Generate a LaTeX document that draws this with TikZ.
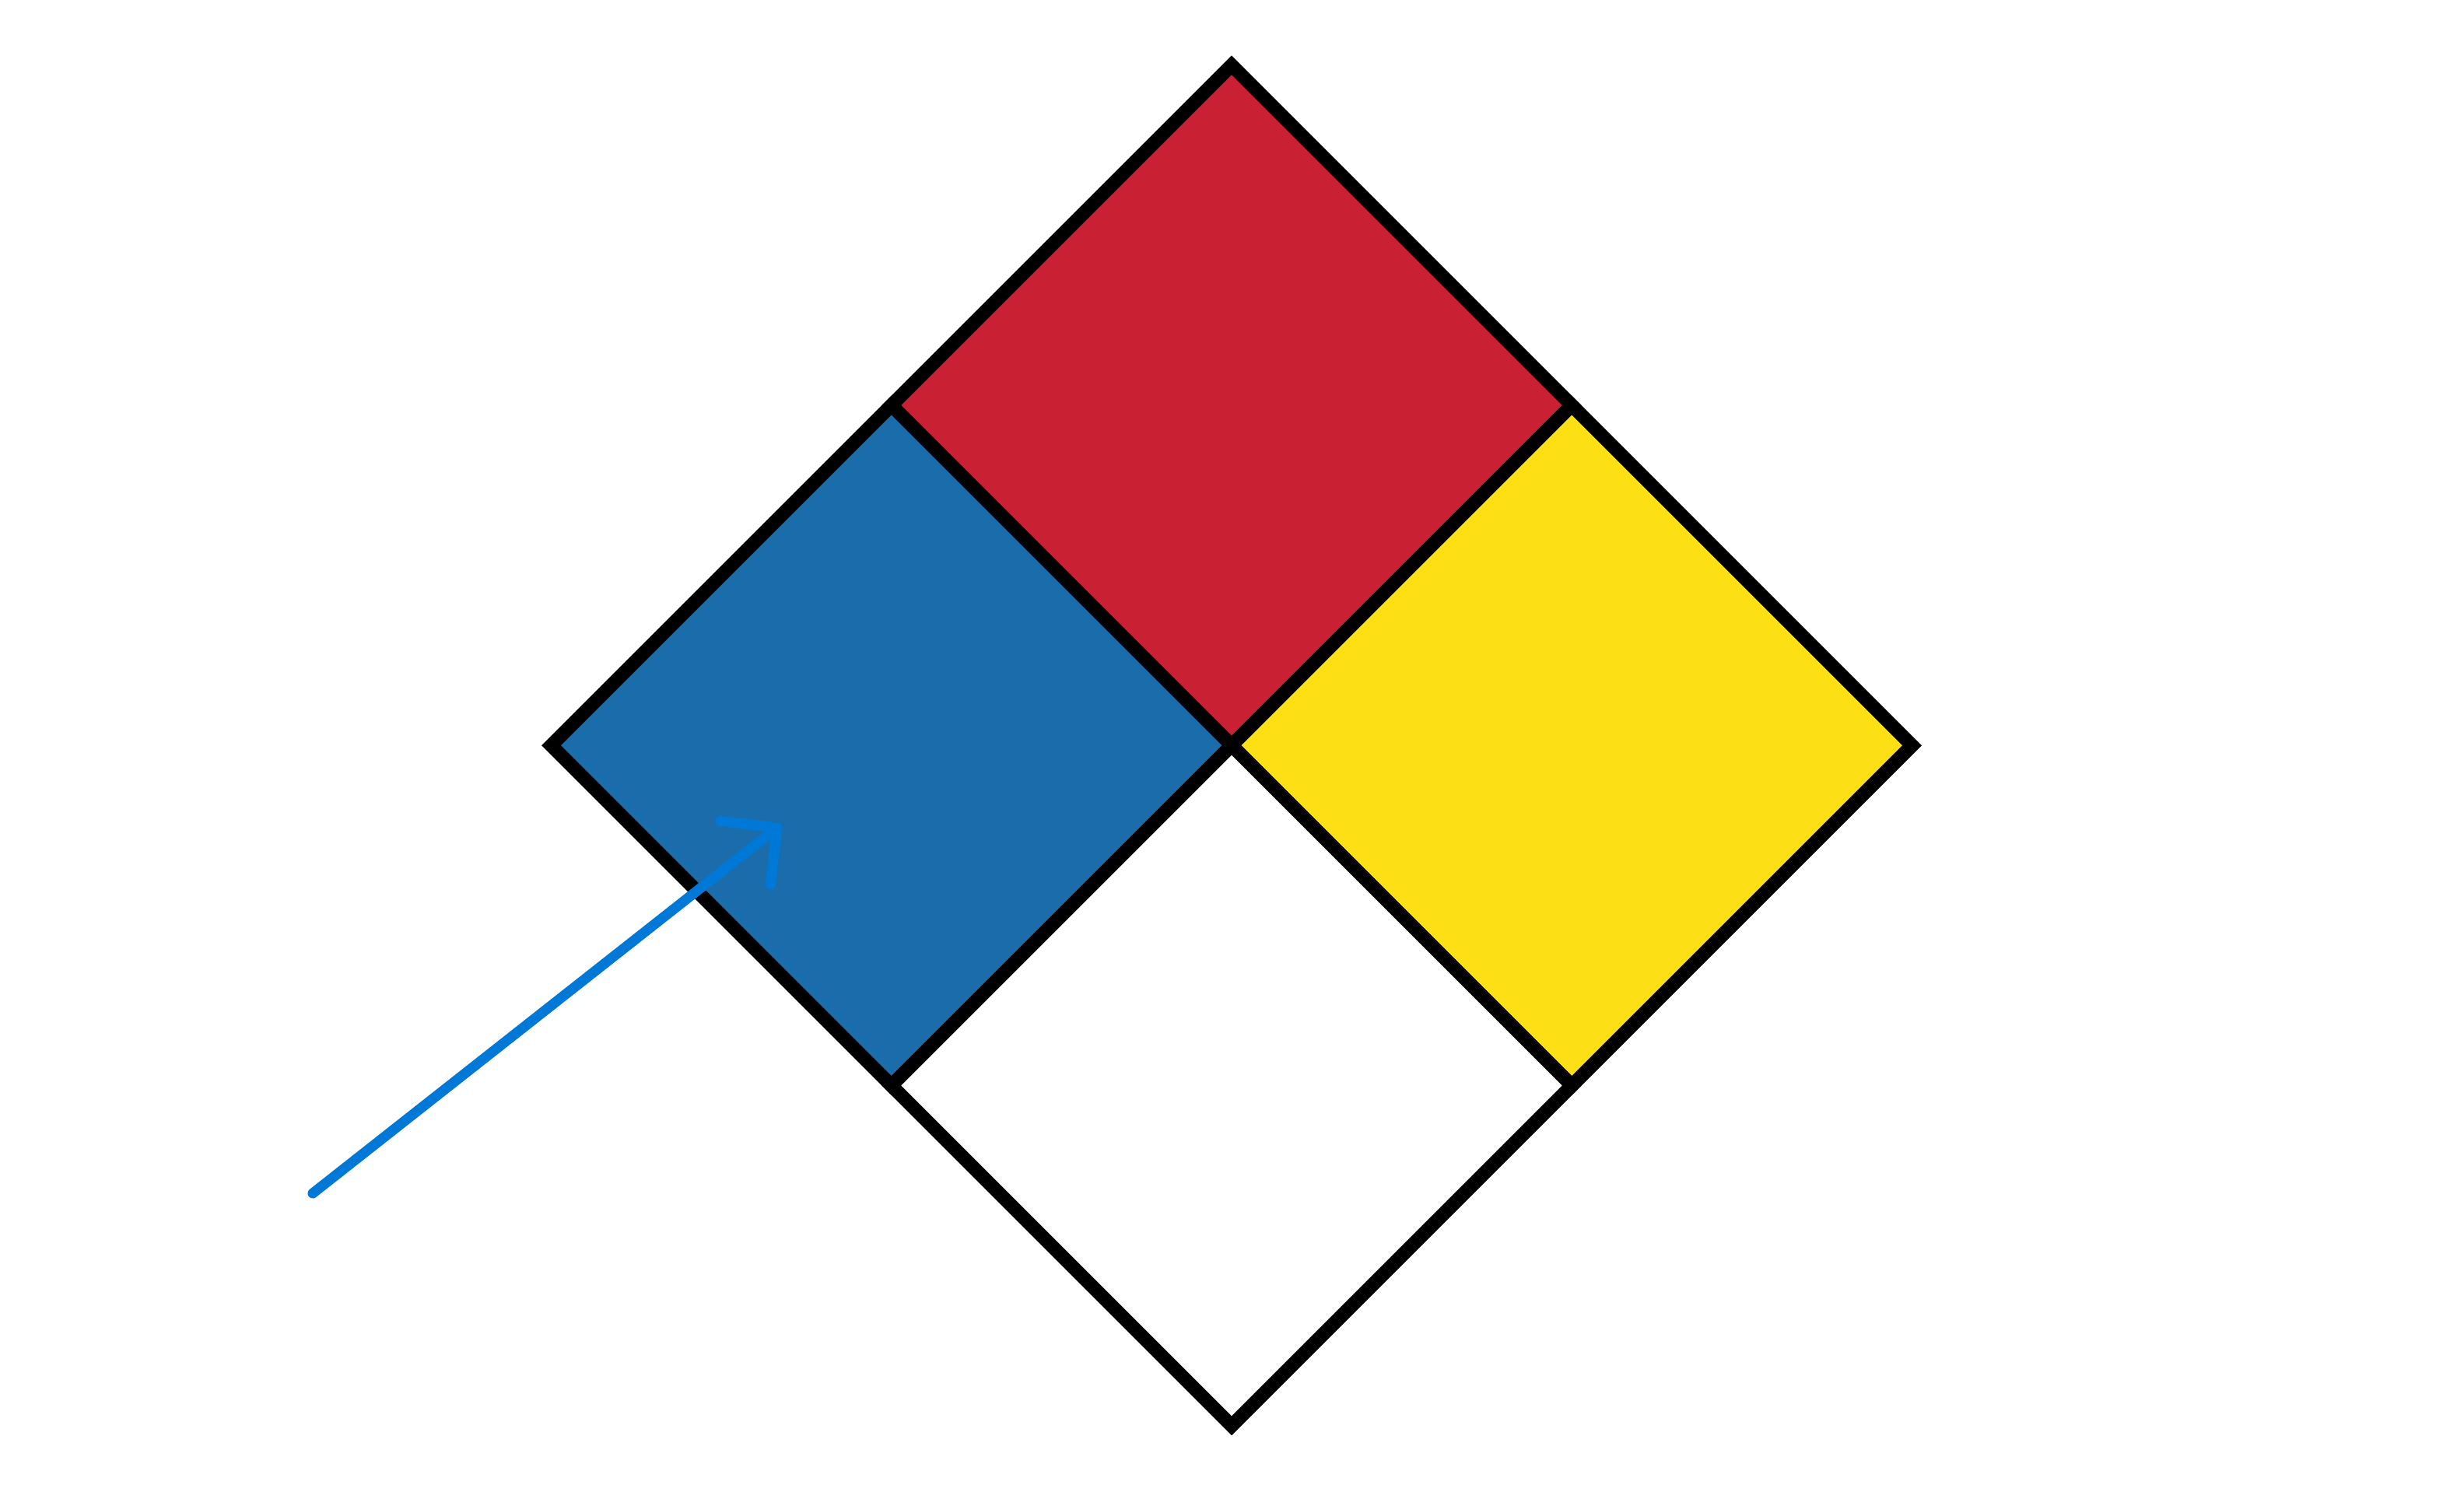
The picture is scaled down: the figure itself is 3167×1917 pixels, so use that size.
\documentclass[tikz,border=0pt]{standalone}
\usetikzlibrary{shapes.geometric, positioning, arrows.meta}
\definecolor{firered}{RGB}{201,32,51}
\definecolor{healthblue}{RGB}{26,109,170}
\definecolor{reactyellow}{RGB}{252,223,20}
\definecolor{pointerblue}{RGB}{0,120,215}
\tikzset{
  quadrant/.style = {draw, diamond, line width=5pt, inner sep=0, outer sep=0,
                     minimum width=8.74cm, minimum height=8.74cm},
  pointer/.style = {draw=pointerblue, line width=3.7pt, line cap=round,
                    -{Straight Barb[length=0.52cm, width=1.04cm, round]}},
}

\begin{document}
\begin{tikzpicture}[x=0.01cm, y=-0.01cm, node distance=0cm]
        \useasboundingbox (0,0) rectangle (3167,1917);
        % top quadrant first, the others hang off its lower edges
        \node (fire) [quadrant, fill=firered] at (1583,521) {};
        \foreach \X/\p/\c in {
          health/below left/healthblue,
          reactivity/below right/reactyellow%
        }{
          \node (\X) [quadrant, fill=\c, \p=0cm of fire] {};
        }
        \node (special) [quadrant, fill=white, below right=0cm of health] {};

        \coordinate (tail) at (402,1534);
        \coordinate (head) at (1004,1060);
        \draw [pointer] (tail) -- (head);
      \end{tikzpicture}
\end{document}
